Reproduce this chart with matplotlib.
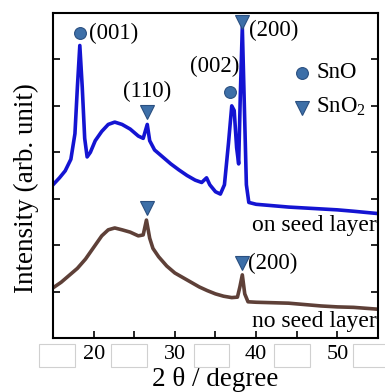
import numpy as np
import matplotlib
matplotlib.use('Agg')
import matplotlib.pyplot as plt
from matplotlib.patches import Rectangle
import matplotlib.transforms as mtransforms

plt.rcParams['font.family'] = ['Liberation Serif', 'DejaVu Serif']
plt.rcParams['mathtext.fontset'] = 'custom'
plt.rcParams['mathtext.rm'] = 'Liberation Serif'

# on seed layer (blue)
on_x = [15.0, 15.8, 16.5, 17.2, 17.7, 18.0, 18.3, 18.6, 18.9, 19.2, 19.6, 20.2,
        21.0, 21.8, 22.6, 23.5, 24.5, 25.5, 26.1, 26.6, 26.9, 27.5, 28.5, 29.5,
        30.5, 31.5, 32.5, 33.3, 33.9, 34.3, 35.0, 35.6, 36.1, 36.6, 37.0, 37.3,
        37.6, 37.85, 38.05, 38.3, 38.55, 38.8, 39.1, 40.0, 42.0, 44.0, 46.0,
        48.0, 50.0, 52.0, 55.0]
on_y = [3.30, 3.45, 3.60, 3.85, 4.40, 5.40, 6.30, 5.40, 4.30, 3.90, 4.00, 4.25,
        4.45, 4.60, 4.65, 4.60, 4.50, 4.35, 4.30, 4.60, 4.25, 4.05, 3.90, 3.75,
        3.62, 3.50, 3.40, 3.35, 3.45, 3.30, 3.15, 3.10, 3.30, 4.20, 5.00, 4.90,
        4.10, 3.75, 5.20, 6.70, 5.00, 3.30, 2.92, 2.88, 2.85, 2.82, 2.80,
        2.78, 2.76, 2.73, 2.68]

# no seed layer (brown)
no_x = [15.0, 16.0, 17.0, 18.0, 19.0, 20.0, 21.0, 21.8, 22.6, 23.5, 24.5, 25.5,
        26.1, 26.5, 26.9, 27.3, 28.0, 29.0, 30.0, 31.0, 32.0, 33.0, 34.0, 35.0,
        36.0, 37.0, 37.7, 38.0, 38.3, 38.6, 39.0, 40.0, 42.0, 44.0, 46.0, 48.0,
        50.0, 52.0, 55.0]
no_y = [1.08, 1.20, 1.35, 1.50, 1.70, 1.95, 2.20, 2.33, 2.37, 2.33, 2.28, 2.20,
        2.22, 2.54, 2.15, 1.93, 1.75, 1.55, 1.40, 1.30, 1.20, 1.10, 1.02, 0.95,
        0.90, 0.87, 0.88, 1.10, 1.36, 0.95, 0.78, 0.77, 0.76, 0.75, 0.72, 0.69,
        0.67, 0.66, 0.62]

# peak markers
sno_x = [18.3, 36.8]
sno_y = [6.57, 5.30]
sno2_x = [26.6, 38.3, 26.6, 38.3]
sno2_y = [4.87, 6.81, 2.80, 1.61]

mk = '#3d6fa8'
mke = '#2a4f80'

fig = plt.figure(figsize=(3.85, 3.92), dpi=100)
ax = fig.add_axes([53/385, 1 - 338/392, 325/385, 325/392])

ax.plot(on_x, on_y, color='#1414d2', lw=2.6)
ax.plot(no_x, no_y, color='#5e4038', lw=2.6)

ax.plot(sno_x, sno_y, 'o', ms=8.5, mfc=mk, mec=mke, mew=0.8, ls='none')
ax.plot(sno2_x, sno2_y, 'v', ms=10, mfc=mk, mec=mke, mew=0.8, ls='none')

fs = 16.5
ax.text(19.4, 6.55, '(001)', fontsize=fs, va='center', ha='left')
ax.text(26.6, 5.30, '(110)', fontsize=fs, va='center', ha='center')
ax.text(34.9, 5.84, '(002)', fontsize=fs, va='center', ha='center')
ax.text(39.1, 6.62, '(200)', fontsize=fs, va='center', ha='left')
ax.text(39.0, 1.61, '(200)', fontsize=fs, va='center', ha='left')

# legend drawn by hand
ax.plot([45.65], [5.71], 'o', ms=8.5, mfc=mk, mec=mke, mew=0.8)
ax.plot([45.65], [4.95], 'v', ms=10, mfc=mk, mec=mke, mew=0.8)
ax.text(47.4, 5.71, 'SnO', fontsize=fs, va='center', ha='left')
ax.text(47.4, 4.98, r'SnO$_2$', fontsize=fs, va='center', ha='left')

ax.text(54.8, 2.43, 'on seed layer', fontsize=17, va='center', ha='right')
ax.text(54.8, 0.36, 'no seed layer', fontsize=17, va='center', ha='right')

ax.set_xlim(15, 55)
ax.set_ylim(0, 7)
ax.set_xticks([20, 25, 30, 35, 40, 45, 50])
ax.set_xticklabels(['20', '', '30', '', '40', '', '50'], fontsize=16)
ax.set_yticks([1, 2, 3, 4, 5, 6])
ax.set_yticklabels([])
ax.tick_params(direction='in', length=5, width=1.2, right=True, top=False, pad=5)
for s in ax.spines.values():
    s.set_linewidth(1.5)

ax.set_xlabel('2 θ / degree', fontsize=19.5, va='center')
ax.xaxis.set_label_coords(0.5, (338 - 379) / 325)
ax.set_ylabel('Intensity (arb. unit)', fontsize=19.5, va='center')
ax.yaxis.set_label_coords((26 - 53) / 325, (338 - 188) / 325)

# blank boxes under the axis between the tick labels
trans = mtransforms.blended_transform_factory(ax.transData, fig.transFigure)
for bx in [15.5, 24.4, 34.5, 44.4, 54.1]:
    r = Rectangle((bx - 2.2, 1 - 367/392), 4.4, 23/392, transform=trans,
                  facecolor='white', edgecolor='#d0d0d0', lw=0.8, clip_on=False)
    fig.add_artist(r)

fig.savefig('out.png', dpi=100)
